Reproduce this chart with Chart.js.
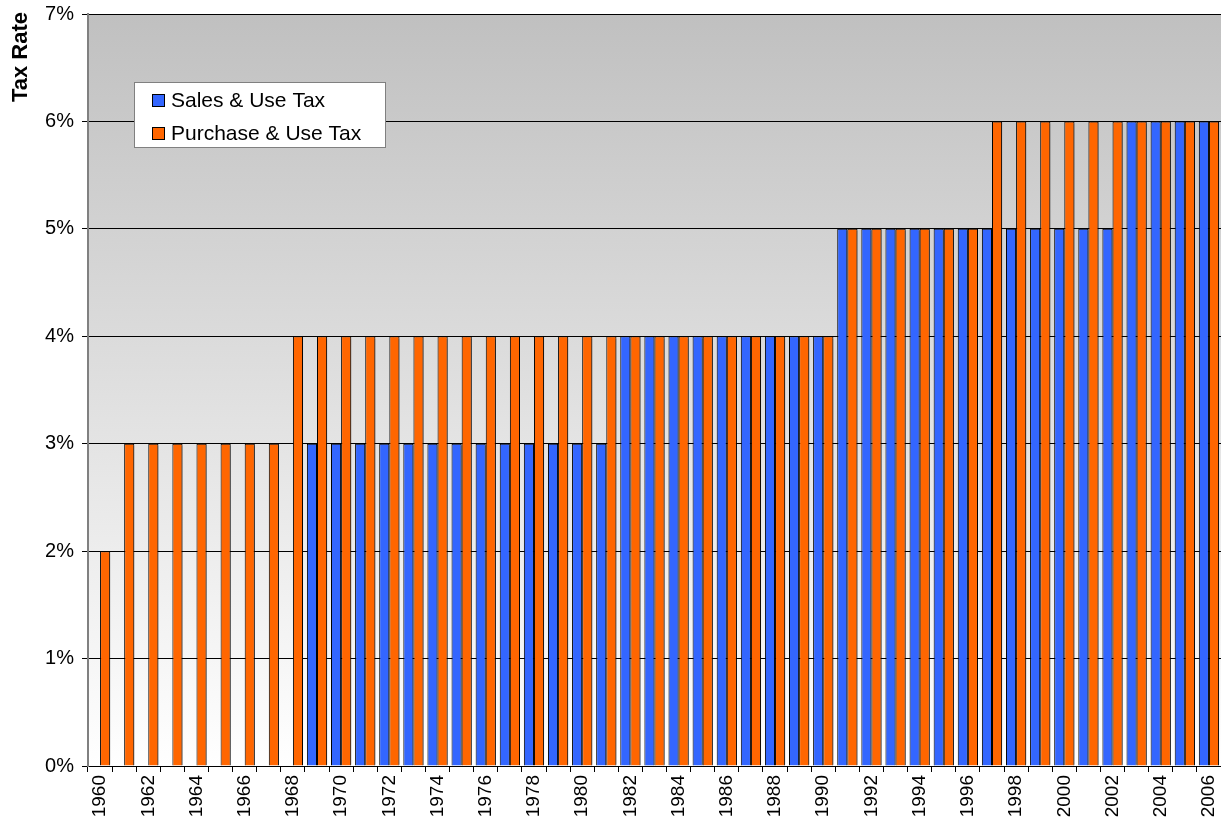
<!DOCTYPE html>
<html>
<head>
<meta charset="utf-8">
<script src="https://cdn.jsdelivr.net/npm/chart.js@4.4.0/dist/chart.umd.min.js"></script>
<style>
  html, body { margin: 0; padding: 0; background: #fff; }
  #wrap { width: 1221px; height: 820px; }
</style>
</head>
<body>
<div id="wrap"><canvas id="myChart" width="1221" height="820"></canvas></div>
<script>
// years on the x axis
const years = [
  "1960", "1961", "1962", "1963", "1964", "1965", "1966", "1967", "1968", "1969",
  "1970", "1971", "1972", "1973", "1974", "1975", "1976", "1977", "1978", "1979",
  "1980", "1981", "1982", "1983", "1984", "1985", "1986", "1987", "1988", "1989",
  "1990", "1991", "1992", "1993", "1994", "1995", "1996", "1997", "1998", "1999",
  "2000", "2001", "2002", "2003", "2004", "2005", "2006"
];

// tax rates in percent (null = no tax that year)
const salesUseTax = [
  null, null, null, null, null, null, null, null, null, 3,
  3, 3, 3, 3, 3, 3, 3, 3, 3, 3,
  3, 3, 4, 4, 4, 4, 4, 4, 4, 4,
  4, 5, 5, 5, 5, 5, 5, 5, 5, 5,
  5, 5, 5, 6, 6, 6, 6
];

const purchaseUseTax = [
  2, 3, 3, 3, 3, 3, 3, 3, 4, 4,
  4, 4, 4, 4, 4, 4, 4, 4, 4, 4,
  4, 4, 4, 4, 4, 4, 4, 4, 4, 4,
  4, 5, 5, 5, 5, 5, 5, 6, 6, 6,
  6, 6, 6, 6, 6, 6, 6
];

const seriesNames = ["Sales & Use Tax", "Purchase & Use Tax"];
const seriesColors = ["#3366FF", "#FF6600"];
const yTicks = [0, 1, 2, 3, 4, 5, 6, 7];

const FONT = "'Liberation Sans', Arial, sans-serif";

// grey-to-white gradient behind the plot
const plotBackground = {
  id: "plotBackground",
  beforeDraw(chart) {
    const { ctx, chartArea: a } = chart;
    const g = ctx.createLinearGradient(0, a.top, 0, a.bottom);
    g.addColorStop(0, "#c0c0c0");
    g.addColorStop(1, "#ffffff");
    ctx.save();
    ctx.fillStyle = g;
    ctx.fillRect(a.left, a.top, a.right - a.left, a.bottom - a.top);
    ctx.restore();
  },
};

// soft shadow on the bars, like the original spreadsheet chart
const barShadow = {
  id: "barShadow",
  beforeDatasetsDraw(chart) {
    const ctx = chart.ctx;
    ctx.save();
    ctx.shadowColor = "rgba(0,0,0,0.3)";
    ctx.shadowBlur = 1;
    ctx.shadowOffsetX = 2;
    ctx.shadowOffsetY = -1;
  },
  afterDatasetsDraw(chart) {
    chart.ctx.restore();
  },
};

// y axis title and boxed legend
const decorations = {
  id: "decorations",
  afterDraw(chart) {
    const ctx = chart.ctx;
    ctx.save();

    // "Tax Rate" at top left, rotated
    ctx.translate(27, 12);
    ctx.rotate(-Math.PI / 2);
    ctx.font = "bold 22px " + FONT;
    ctx.fillStyle = "#000";
    ctx.textAlign = "right";
    ctx.textBaseline = "alphabetic";
    ctx.fillText("Tax Rate", 0, 0);
    ctx.setTransform(1, 0, 0, 1, 0, 0);

    // legend box
    ctx.fillStyle = "#fff";
    ctx.fillRect(134, 82, 252, 66);
    ctx.strokeStyle = "#808080";
    ctx.lineWidth = 1;
    ctx.strokeRect(134.5, 82.5, 251, 65);

    ctx.font = "21px " + FONT;
    ctx.textAlign = "left";
    ctx.textBaseline = "middle";
    chart.data.datasets.forEach((ds, i) => {
      const y = 100 + i * 33;
      ctx.fillStyle = ds.backgroundColor;
      ctx.fillRect(152, y - 6, 13, 13);
      ctx.strokeStyle = "#000";
      ctx.strokeRect(152.5, y - 5.5, 12, 12);
      ctx.fillStyle = "#000";
      ctx.fillText(ds.label, 171, y + 1);
    });
    ctx.restore();
  },
};

const ctx = document.getElementById("myChart").getContext("2d");
new Chart(ctx, {
  type: "bar",
  data: {
    labels: years,
    datasets: [
      {
        label: seriesNames[0],
        data: salesUseTax,
        backgroundColor: seriesColors[0],
        borderColor: "#000",
        borderWidth: 1,
      },
      {
        label: seriesNames[1],
        data: purchaseUseTax,
        backgroundColor: seriesColors[1],
        borderColor: "#000",
        borderWidth: 1,
      },
    ],
  },
  options: {
    responsive: false,
    animation: false,
    devicePixelRatio: 1,
    layout: { padding: { top: 14, left: 0, right: 0, bottom: 0 } },
    datasets: {
      bar: { categoryPercentage: 0.84, barPercentage: 1.0 },
    },
    plugins: {
      legend: { display: false },
      tooltip: { enabled: false },
    },
    scales: {
      x: {
        grid: {
          offset: true,
          drawOnChartArea: false,
          drawTicks: true,
          tickLength: 6,
          color: "#000",
        },
        border: { color: "#000", width: 1 },
        ticks: {
          autoSkip: false,
          minRotation: 90,
          maxRotation: 90,
          padding: 3,
          color: "#000",
          font: { family: FONT, size: 19 },
          callback: (val, idx) => (idx % 2 === 0 ? years[idx] : ""),
        },
        afterFit: (scale) => {
          scale.height = 54;
          scale.paddingLeft = 0;
          scale.paddingRight = 0;
        },
      },
      y: {
        min: yTicks[0],
        max: yTicks[yTicks.length - 1],
        afterBuildTicks: (scale) => { scale.ticks = yTicks.map((v) => ({ value: v })); },
        grid: {
          color: "#000",
          lineWidth: 1,
          drawTicks: true,
          tickLength: 6,
        },
        border: { color: "#808080", width: 2 },
        ticks: {
          padding: 8,
          color: "#000",
          font: { family: FONT, size: 20 },
          callback: (v) => v + "%",
        },
        afterFit: (scale) => {
          scale.width = 88;
          scale.paddingTop = 0;
          scale.paddingBottom = 0;
        },
      },
    },
  },
  plugins: [plotBackground, barShadow, decorations],
});
</script>
</body>
</html>
